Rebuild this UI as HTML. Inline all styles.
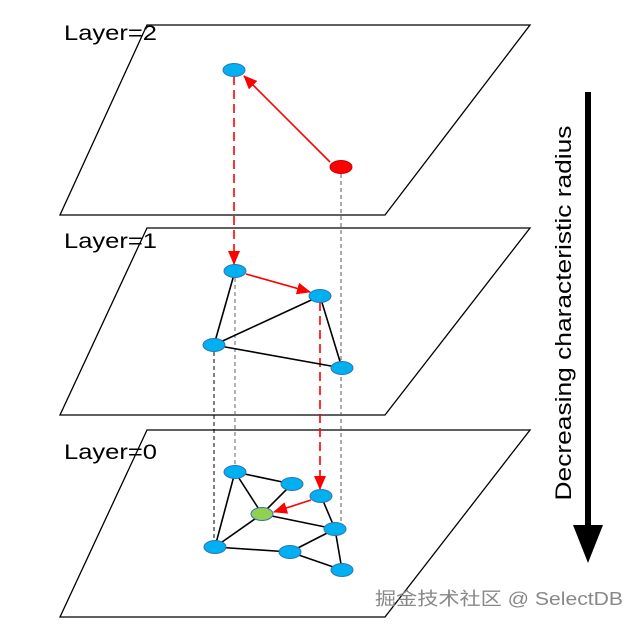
<!DOCTYPE html>
<html><head><meta charset="utf-8"><style>
html,body{margin:0;padding:0;background:#fff;width:642px;height:628px;overflow:hidden}
svg{display:block}
text{font-family:"Liberation Sans",sans-serif}
</style></head><body>
<svg width="642" height="628" viewBox="0 0 642 628" xmlns="http://www.w3.org/2000/svg">
<defs>
<marker id="rb" markerWidth="14" markerHeight="12" refX="13" refY="6" orient="auto" markerUnits="userSpaceOnUse"><path d="M0,0 L14,6 L0,12 Z" fill="#f00"/></marker>
</defs>
<g fill="none" stroke="#000" stroke-width="1.3">
<polygon points="147,25 530,25 385,215 60,215"/>
<polygon points="147,228 530,228 385,415 60,415"/>
<polygon points="147,430 530,430 385,617 60,617"/>
</g>
<text x="64" y="40" font-size="21" textLength="93" lengthAdjust="spacingAndGlyphs">Layer=2</text>
<text x="64" y="248" font-size="21" textLength="93" lengthAdjust="spacingAndGlyphs">Layer=1</text>
<text x="64" y="459" font-size="21" textLength="93" lengthAdjust="spacingAndGlyphs">Layer=0</text>
<g stroke-width="1" fill="none" stroke-dasharray="4,3">
<line x1="341" y1="167" x2="341" y2="530" stroke="#555"/>
<line x1="235" y1="271" x2="235" y2="472" stroke="#666"/>
<line x1="214" y1="345" x2="214" y2="547" stroke="#000"/>
</g>
<g stroke="#f00" stroke-width="1.6" stroke-dasharray="9,5" fill="none">
<line x1="234" y1="76" x2="234" y2="264" marker-end="url(#rb)"/>
<line x1="320" y1="302" x2="320" y2="489" marker-end="url(#rb)"/>
</g>
<g stroke="#000" stroke-width="1.6">
<line x1="235" y1="271" x2="214" y2="345"/>
<line x1="214" y1="345" x2="320" y2="296"/>
<line x1="214" y1="345" x2="342" y2="368"/>
<line x1="320" y1="296" x2="342" y2="368"/>
<line x1="235" y1="472" x2="292" y2="484"/>
<line x1="235" y1="472" x2="262" y2="514"/>
<line x1="235" y1="472" x2="215" y2="547"/>
<line x1="292" y1="484" x2="262" y2="514"/>
<line x1="321" y1="496" x2="335" y2="529"/>
<line x1="262" y1="514" x2="335" y2="529"/>
<line x1="215" y1="547" x2="262" y2="514"/>
<line x1="215" y1="547" x2="290" y2="552"/>
<line x1="290" y1="552" x2="335" y2="529"/>
<line x1="335" y1="529" x2="342" y2="570"/>
<line x1="290" y1="552" x2="342" y2="570"/>
</g>
<g stroke="#f00" stroke-width="1.6" fill="none">
<line x1="330" y1="162" x2="244" y2="76" marker-end="url(#rb)"/>
<line x1="246" y1="274" x2="310" y2="292" marker-end="url(#rb)"/>
<line x1="311" y1="500" x2="274" y2="512" marker-end="url(#rb)"/>
</g>
<g fill="#00b0f0" stroke="#2e75b6" stroke-width="1">
<ellipse cx="234" cy="70" rx="11" ry="6.5"/>
<ellipse cx="235" cy="271" rx="11" ry="6.5"/>
<ellipse cx="320" cy="296" rx="11" ry="6.5"/>
<ellipse cx="214" cy="345" rx="11" ry="6.5"/>
<ellipse cx="342" cy="368" rx="11" ry="6.5"/>
<ellipse cx="235" cy="472" rx="11" ry="6.5"/>
<ellipse cx="292" cy="484" rx="11" ry="6.5"/>
<ellipse cx="321" cy="496" rx="11" ry="6.5"/>
<ellipse cx="335" cy="529" rx="11" ry="6.5"/>
<ellipse cx="215" cy="547" rx="11" ry="6.5"/>
<ellipse cx="290" cy="552" rx="11" ry="6.5"/>
<ellipse cx="342" cy="570" rx="11" ry="6.5"/>
</g>
<ellipse cx="262" cy="514" rx="11" ry="6.5" fill="#92d050" stroke="#2e75b6" stroke-width="1"/>
<ellipse cx="341" cy="167" rx="11" ry="6.5" fill="#f00" stroke="#c00" stroke-width="1"/>
<rect x="585" y="92" width="6" height="436" fill="#000"/>
<polygon points="573,525 603,525 588,563" fill="#000"/>
<text transform="translate(571,313) rotate(-90)" font-size="22" text-anchor="middle" textLength="375" lengthAdjust="spacingAndGlyphs">Decreasing characteristic radius</text>
<text x="375" y="605" font-size="18" fill="#888" textLength="248" lengthAdjust="spacingAndGlyphs" font-family="'Liberation Sans','Noto Sans CJK SC',sans-serif">掘金技术社区 @ SelectDB</text>
</svg>
</body></html>
